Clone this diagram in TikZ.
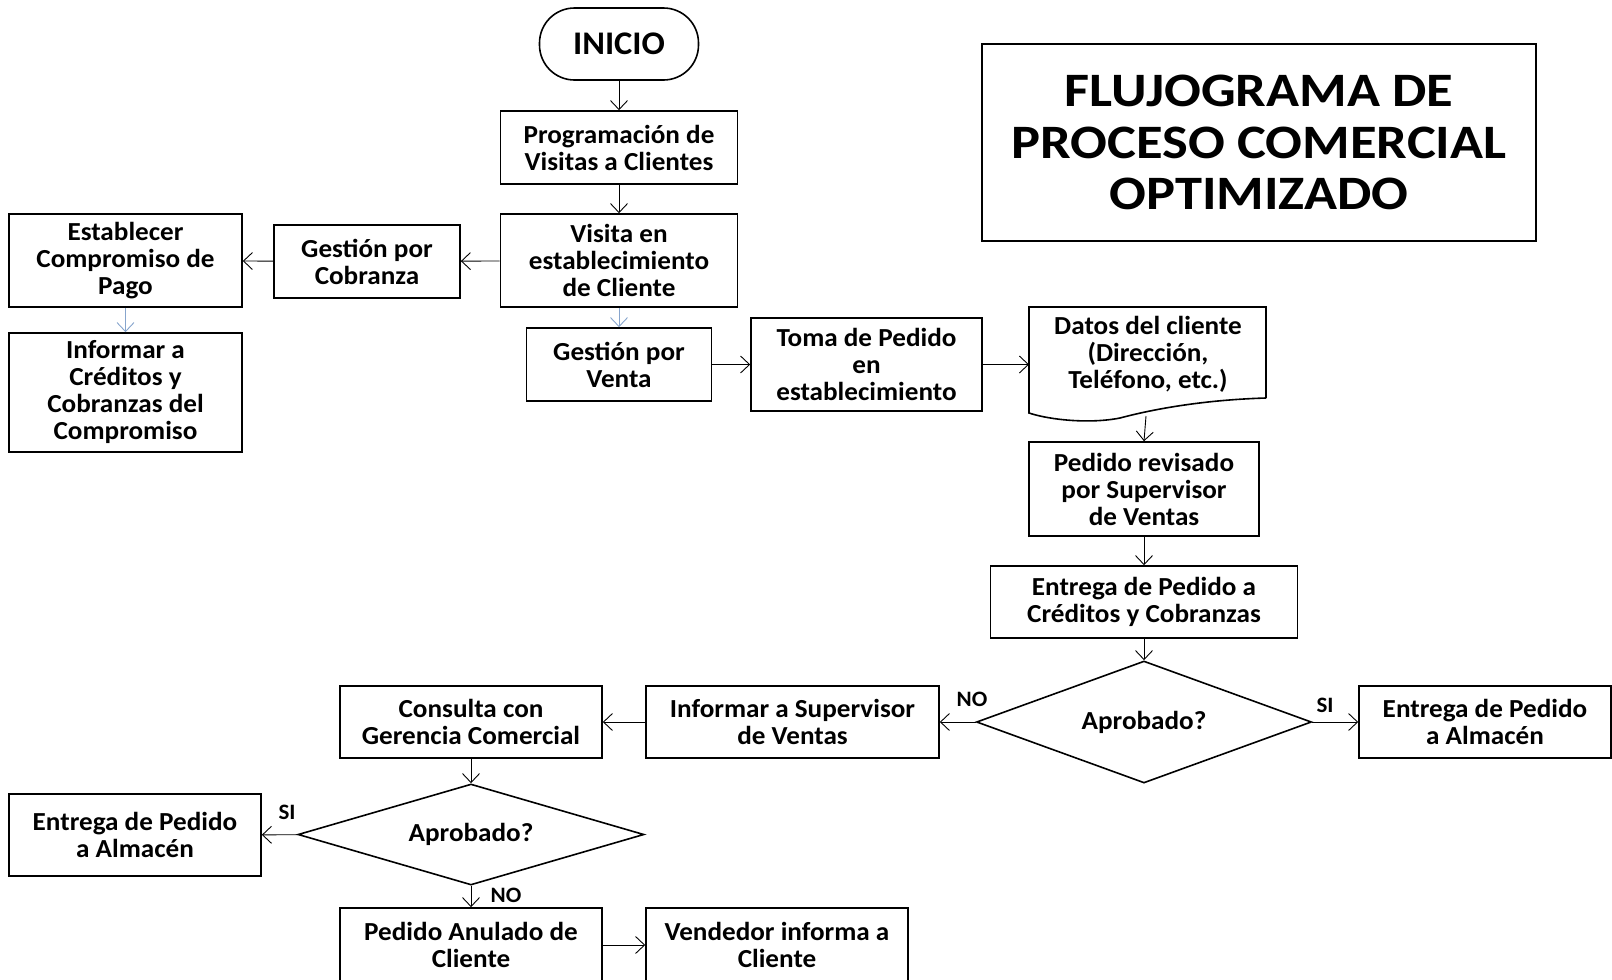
\documentclass[tikz,border=0pt]{standalone}
\usepackage{fontspec}
\setmainfont{Carlito}[FakeStretch=1.045]
\newfontfamily\titulofuente{Carlito}[FakeStretch=1.135]
\usepackage{tikz}
\usetikzlibrary{arrows.meta,shapes.geometric}

\definecolor{flechaazul}{RGB}{135,165,205}

\tikzset{
    caja/.style={draw, line width=1.6pt, align=center, inner sep=2pt,
        font=\fontsize{26}{27}\selectfont\bfseries},
    decision/.style={caja, diamond, inner sep=0pt},
    flecha/.style={-{Straight Barb[length=9pt,width=17pt]}, line width=0.9pt},
    rotulo/.style={font=\fontsize{22}{22}\selectfont\bfseries}
}

\begin{document}
\begin{tikzpicture}[x=1pt,y=-1pt]
    %%Background
    \useasboundingbox (0,0) rectangle (1612,980);

    %%Title
    \node[caja, line width=1.2pt, minimum width=554pt, minimum height=197pt,
        font=\titulofuente\fontsize{48}{51.5}\selectfont\bfseries] (titulo) at (1259,142.5)
        {FLUJOGRAMA DE\\PROCESO COMERCIAL\\OPTIMIZADO};

    %%Top column
    \node[caja, rounded corners=35pt, minimum width=159pt, minimum height=72pt,
        font=\fontsize{33}{33}\selectfont\bfseries] (inicio) at (619,44) {INICIO};
    \node[caja, minimum width=237pt, minimum height=73pt] (prog) at (619,147.5)
        {Programación de\\Visitas a Clientes};
    \node[caja, minimum width=237pt, minimum height=93pt] (visita) at (619,260.5)
        {Visita en\\establecimiento\\de Cliente};

    %%Cobranza branch
    \node[caja, minimum width=186pt, minimum height=73pt] (gcobranza) at (367,261.5)
        {Gestión por\\Cobranza};
    \node[caja, minimum width=233pt, minimum height=93pt] (compromiso) at (125.5,260.5)
        {Establecer\\Compromiso de\\Pago};
    \node[caja, minimum width=233pt, minimum height=119pt] (infcreditos) at (125.5,392.5)
        {Informar a\\Créditos y\\Cobranzas del\\Compromiso};

    %%Venta branch
    \node[caja, minimum width=185pt, minimum height=73pt] (gventa) at (619,364.5)
        {Gestión por\\Venta};
    \node[caja, minimum width=231pt, minimum height=93pt] (toma) at (866.5,364.5)
        {Toma de Pedido\\en\\establecimiento};

    % document shape
    \draw[line width=1.6pt] (1266,398) -- (1266,307) -- (1029,307) -- (1029,413)
        .. controls (1050,420) and (1090,424) .. (1120,418)
        .. controls (1150,410) and (1200,400) .. (1266,398);
    \node[caja, draw=none, minimum width=237pt] (datos) at (1148,354)
        {Datos del cliente\\(Dirección,\\Teléfono, etc.)};
    \coordinate (datosbase) at (1146,416);

    \node[caja, minimum width=230pt, minimum height=94pt] (revisado) at (1144,489)
        {Pedido revisado\\por Supervisor\\de Ventas};
    \node[caja, minimum width=307pt, minimum height=72pt] (entcreditos) at (1144,602)
        {Entrega de Pedido a\\Créditos y Cobranzas};

    %%Decision 1
    \node[decision, aspect=2.75, minimum width=335pt, minimum height=122pt] (aprob1)
        at (1144,722) {Aprobado?};
    \node[caja, minimum width=252pt, minimum height=72pt] (almacen1) at (1485,722)
        {Entrega de Pedido\\a Almacén};
    \node[caja, minimum width=293pt, minimum height=72pt] (infsuper) at (792.5,722)
        {Informar a Supervisor\\de Ventas};
    \node[caja, minimum width=262pt, minimum height=72pt] (consulta) at (471,722)
        {Consulta con\\Gerencia Comercial};

    %%Decision 2
    \node[decision, aspect=3.4, minimum width=346pt, minimum height=101pt] (aprob2)
        at (471,834.5) {Aprobado?};
    \node[caja, minimum width=252pt, minimum height=82pt] (almacen2) at (135,835)
        {Entrega de Pedido\\a Almacén};
    \node[caja, minimum width=262pt, minimum height=74pt] (anulado) at (471,945)
        {Pedido Anulado de\\Cliente};
    \node[caja, minimum width=262pt, minimum height=74pt] (vendedor) at (777,945)
        {Vendedor informa a\\Cliente};

    %%Arrows
    \draw[flecha] (inicio) -- (prog);
    \draw[flecha] (prog) -- (visita);
    \draw[flecha] (visita) -- (gcobranza);
    \draw[flecha] (gcobranza) -- (compromiso);
    \draw[flecha, flechaazul] (compromiso) -- (infcreditos);
    \draw[flecha, flechaazul] (visita) -- (gventa);
    \draw[flecha] (gventa) -- (toma);
    \draw[flecha] (toma.east) -- (toma.east -| 1029,0);
    \draw[flecha] (datosbase) -- (revisado.north);
    \draw[flecha] (revisado) -- (entcreditos);
    \draw[flecha] (entcreditos) -- (aprob1);
    \draw[flecha] (aprob1) -- (almacen1);
    \draw[flecha] (aprob1) -- (infsuper);
    \draw[flecha] (infsuper) -- (consulta);
    \draw[flecha] (consulta) -- (aprob2);
    \draw[flecha] (aprob2) -- (almacen2);
    \draw[flecha] (aprob2) -- (anulado);
    \draw[flecha] (anulado) -- (vendedor);

    %% Labels
    \node[rotulo] (no1) at (972,699) {NO};
    \node[rotulo] (si1) at (1325,705) {SI};
    \node[rotulo] (si2) at (287,812) {SI};
    \node[rotulo] (no2) at (506,895) {NO};

\end{tikzpicture}
\end{document}
